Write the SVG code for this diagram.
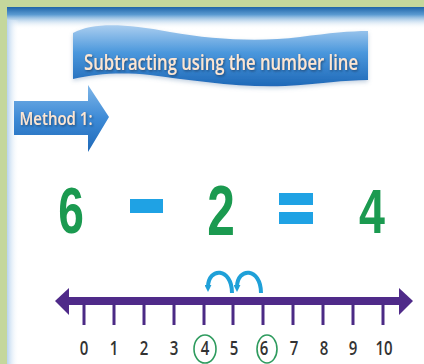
<svg xmlns="http://www.w3.org/2000/svg" width="424" height="364" viewBox="0 0 424 364">
<defs>
<linearGradient id="topg" x1="0" y1="0" x2="0" y2="1">
<stop offset="0" stop-color="#1e64a8"/><stop offset="0.35" stop-color="#5b9bd2"/><stop offset="1" stop-color="#ffffff" stop-opacity="0"/>
</linearGradient>
<linearGradient id="leftg" x1="0" y1="0" x2="1" y2="0">
<stop offset="0" stop-color="#b7d3ee"/><stop offset="1" stop-color="#ffffff" stop-opacity="0"/>
</linearGradient>
<linearGradient id="bang" x1="0" y1="0" x2="0" y2="1">
<stop offset="0" stop-color="#a9cdef"/><stop offset="0.45" stop-color="#4a97dc"/><stop offset="1" stop-color="#1f69b8"/>
</linearGradient>
<linearGradient id="arrg" x1="0" y1="0" x2="0" y2="1">
<stop offset="0" stop-color="#7fb6e8"/><stop offset="0.5" stop-color="#3d8ad6"/><stop offset="1" stop-color="#1f69b8"/>
</linearGradient>
<filter id="sh" filterUnits="userSpaceOnUse" x="-500" y="-500" width="1500" height="1500">
<feDropShadow dx="1" dy="1" stdDeviation="0.8" flood-color="#1a3f66" flood-opacity="0.8"/>
</filter>
<filter id="soft" filterUnits="userSpaceOnUse" x="0" y="0" width="424" height="364">
<feDropShadow dx="0" dy="2" stdDeviation="2" flood-color="#6a8fb5" flood-opacity="0.4"/>
</filter>
<marker id="ah" viewBox="0 0 10 10" refX="3" refY="5" markerWidth="7" markerHeight="7" markerUnits="userSpaceOnUse" orient="auto">
<path d="M0,0 L10,5 L0,10 Z" fill="#1fa0d8"/>
</marker>
<style>
.dig{font-family:"Liberation Sans",Arial,sans-serif;font-weight:bold;fill:#1b9a50;text-anchor:middle}
.op{fill:#1fa2e4}
.tick{stroke:#4b2a85;stroke-width:3}
.lab{font-family:"Open Sans","DejaVu Sans",sans-serif;font-weight:600;font-size:15px;fill:#333333;text-anchor:middle}
.ring{fill:none;stroke:#2e9b5e;stroke-width:1.6}
.arc{fill:none;stroke:#1fa0d8;stroke-width:4;stroke-linecap:butt}
.ttl{font-family:"Open Sans","Liberation Sans",sans-serif;font-weight:600;fill:#fde6d2;text-anchor:middle}
</style>
</defs>
<rect x="0" y="0" width="424" height="364" fill="#c4d79c"/>
<rect x="7" y="7" width="417" height="357" fill="#ffffff"/>
<rect x="7" y="7" width="417" height="22" fill="url(#topg)"/>
<rect x="7" y="20" width="12" height="344" fill="url(#leftg)"/>

<g id="banner">
<path d="M73,33 C95,22 125,24 170,32 C215,40 260,42 300,37 C330,33 350,31 368,31 L368,80 C345,80 320,84 285,86 C240,88 190,80 150,75 C120,72 95,74 73,79 Z" fill="url(#bang)" filter="url(#soft)"/>
<g transform="translate(221,70) scale(1,1.3)" filter="url(#sh)">
<text class="ttl" x="0" y="0" font-size="17" textLength="274" lengthAdjust="spacingAndGlyphs">Subtracting using the number line</text>
</g>
</g>

<g id="method">
<path d="M14,101 L88,101 L88,85 L109,117 L88,152 L88,135 L14,135 Z" fill="url(#arrg)"/>
<g transform="translate(56,125) scale(1,1.25)" filter="url(#sh)">
<text class="ttl" x="0" y="0" font-size="14" textLength="73" lengthAdjust="spacingAndGlyphs">Method 1:</text>
</g>
</g>

<g id="equation">
<text class="dig" font-size="64" transform="translate(71,233) scale(0.72,1)">6</text>
<rect class="op" x="130" y="199" width="33" height="14"/>
<text class="dig" font-size="71" transform="translate(221,235) scale(0.7,1)">2</text>
<rect class="op" x="279" y="193" width="34" height="12"/>
<rect class="op" x="279" y="212" width="34" height="12"/>
<text class="dig" font-size="63" transform="translate(372,233) scale(0.74,1)">4</text>
</g>

<g id="numberline">
<rect x="66" y="297" width="336" height="8" fill="#4f2a89"/>
<path d="M55,301 L69,288 L69,315 Z" fill="#4f2a89"/>
<path d="M413,301 L399,288 L399,315 Z" fill="#4f2a89"/>
<g id="ticks">
<line class="tick" x1="84" y1="303" x2="84" y2="325"/>
<line class="tick" x1="114" y1="303" x2="114" y2="325"/>
<line class="tick" x1="144" y1="303" x2="144" y2="325"/>
<line class="tick" x1="174" y1="303" x2="174" y2="325"/>
<line class="tick" x1="204" y1="303" x2="204" y2="325"/>
<line class="tick" x1="233" y1="303" x2="233" y2="325"/>
<line class="tick" x1="263" y1="303" x2="263" y2="325"/>
<line class="tick" x1="293" y1="303" x2="293" y2="325"/>
<line class="tick" x1="323" y1="303" x2="323" y2="325"/>
<line class="tick" x1="353" y1="303" x2="353" y2="325"/>
<line class="tick" x1="383" y1="303" x2="383" y2="325"/>
</g>
</g>

<g id="labels">
<g transform="translate(0,355) scale(1,1.3)">
<text class="lab" x="84" y="0">0</text>
<text class="lab" x="114" y="0">1</text>
<text class="lab" x="144" y="0">2</text>
<text class="lab" x="174" y="0">3</text>
<text class="lab" x="205" y="0">4</text>
<text class="lab" x="234" y="0">5</text>
<text class="lab" x="264" y="0">6</text>
<text class="lab" x="294" y="0">7</text>
<text class="lab" x="324" y="0">8</text>
<text class="lab" x="353" y="0">9</text>
<text class="lab" x="384" y="0">10</text>
</g>
</g>

<g id="rings">
<ellipse class="ring" cx="205" cy="349" rx="11" ry="14"/>
<ellipse class="ring" cx="267" cy="349" rx="10" ry="14"/>
</g>

<g id="connectors">
<path class="arc" d="M232,293 C232,267 208,267 208,287" marker-end="url(#ah)"/>
<path class="arc" d="M261,293 C261,267 237,267 237,287" marker-end="url(#ah)"/>
</g>
</svg>
